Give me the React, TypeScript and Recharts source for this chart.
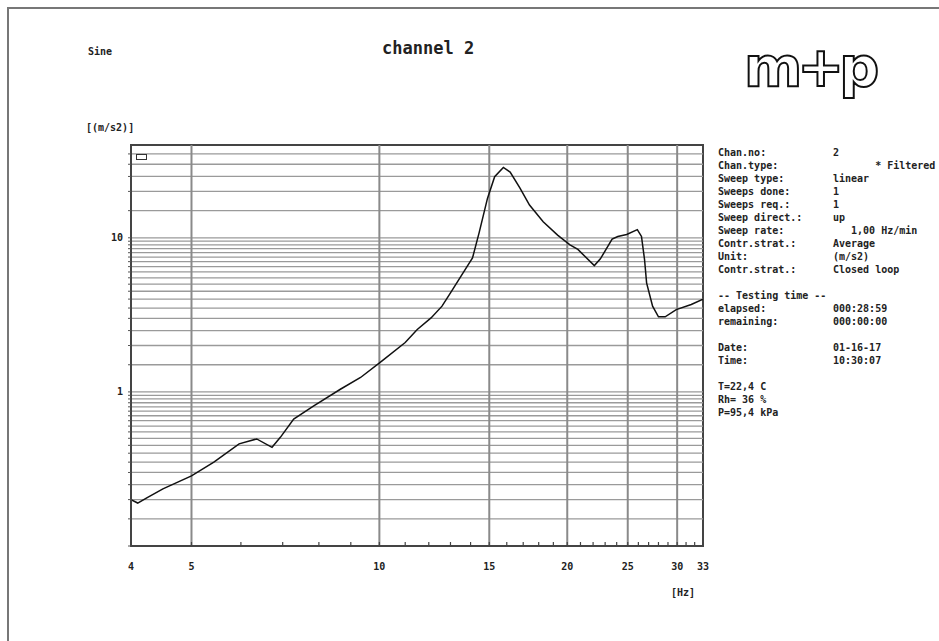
import React from 'react';
import { LineChart, Line, XAxis, YAxis, ReferenceLine, ReferenceArea } from 'recharts';

// measured response, channel 2 (frequency in Hz, acceleration in m/s2)
const freq = [
  4.0, 4.1, 4.24, 4.5, 5.0, 5.43, 5.96, 6.36, 6.73, 6.94, 7.29, 7.85, 8.66, 9.33, 10.1, 11.0,
  11.5, 12.1, 12.6, 13.0, 13.5, 14.1, 14.45, 14.9, 15.3, 15.8, 16.2, 16.8, 17.4, 18.3, 19.3,
  20.2, 20.8, 22.1, 22.6, 23.6, 24.1, 24.9, 25.9, 26.3, 26.6, 26.8, 27.4, 28.0, 28.7, 29.9,
  31.6, 33.0,
];
const accel = [
  0.2, 0.19, 0.205, 0.235, 0.285, 0.35, 0.46, 0.495, 0.437, 0.507, 0.666, 0.81, 1.04, 1.24,
  1.59, 2.09, 2.54, 3.02, 3.6, 4.39, 5.6, 7.4, 10.8, 18, 24.9, 28.6, 26.7, 21, 16.3, 12.7,
  10.4, 9.0, 8.4, 6.6, 7.3, 9.8, 10.2, 10.5, 11.3, 10.2, 7.2, 5.1, 3.6, 3.07, 3.07, 3.42,
  3.69, 4.0,
];

const xLabelTicks = [4, 5, 10, 15, 20, 25, 30, 33];
const xMinorTicks = [
  4, 5, 6, 7, 8, 9, 10, 11, 12, 13, 14, 15, 16, 17, 18, 19, 20, 21, 22, 23, 24, 25, 26, 27,
  28, 29, 30, 31, 32, 33,
];
const xGrid = [5, 10, 15, 20, 25, 30];
const yGrid = [
  0.1, 0.15, 0.2, 0.25, 0.3, 0.35, 0.4, 0.45, 0.5, 0.55, 0.6, 0.65, 0.7, 0.75, 0.8, 0.85, 0.9,
  0.95, 1, 1.5, 2, 2.5, 3, 3.5, 4, 4.5, 5, 5.5, 6, 6.5, 7, 7.5, 8, 8.5, 9, 9.5, 10, 15, 20,
  25, 30, 35,
];
const yLabels = [1, 10];

const infoLines: [string, string][] = [
  ['Chan.no:', '2'],
  ['Chan.type:', '       * Filtered'],
  ['Sweep type:', 'linear'],
  ['Sweeps done:', '1'],
  ['Sweeps req.:', '1'],
  ['Sweep direct.:', 'up'],
  ['Sweep rate:', '   1,00 Hz/min'],
  ['Contr.strat.:', 'Average'],
  ['Unit:', '(m/s2)'],
  ['Contr.strat.:', 'Closed loop'],
  ['', ''],
  ['-- Testing time --', ''],
  ['elapsed:', '000:28:59'],
  ['remaining:', '000:00:00'],
  ['', ''],
  ['Date:', '01-16-17'],
  ['Time:', '10:30:07'],
  ['', ''],
  ['T=22,4 C', ''],
  ['Rh= 36 %', ''],
  ['P=95,4 kPa', ''],
];

const data = freq.map((f, i) => ({ f, a: accel[i] }));

const mono = '"DejaVu Sans Mono", "Liberation Mono", monospace';

const XTick = (props: any) => {
  const { x, y, payload } = props;
  const show = xLabelTicks.includes(payload.value);
  return (
    <g>
      <line x1={x} y1={y} x2={x} y2={y - 4} stroke="#444" strokeWidth={1.2} />
      {show && (
        <text x={x} y={y + 24} textAnchor="middle" fontFamily={mono} fontWeight="bold" fontSize={10} fill="#222">
          {payload.value}
        </text>
      )}
    </g>
  );
};

const txt = (left: number, top: number, size: number, extra: React.CSSProperties = {}): React.CSSProperties => ({
  position: 'absolute',
  left,
  top,
  fontFamily: mono,
  fontWeight: 'bold',
  fontSize: size,
  lineHeight: `${size}px`,
  whiteSpace: 'pre',
  color: '#222',
  ...extra,
});

export default function App() {
  return (
    <div style={{ position: 'fixed', left: 0, top: 0, width: 939, height: 641, background: '#fff', overflow: 'hidden' }}>
      {/* page frame */}
      <div style={{ position: 'absolute', left: 7, top: 7, width: 1000, height: 1000, border: '2px solid #777' }} />

      <div style={{ position: 'absolute', left: 0, top: 0 }}>
        <LineChart width={939} height={641} data={data} margin={{ top: 145, right: 236, bottom: 55, left: 91 }}>
          <XAxis
            dataKey="f"
            type="number"
            scale="log"
            domain={[4, 33]}
            ticks={xMinorTicks}
            interval={0}
            allowDataOverflow
            height={40}
            tickSize={0}
            tickMargin={0}
            tick={<XTick />}
            axisLine={{ stroke: '#444', strokeWidth: 2 }}
          />
          <YAxis
            type="number"
            scale="log"
            domain={[0.1, 40]}
            ticks={yGrid}
            interval={0}
            allowDataOverflow
            width={40}
            tickSize={3}
            tickMargin={5}
            tickLine={{ stroke: '#555' }}
            axisLine={{ stroke: '#444', strokeWidth: 2 }}
            tickFormatter={(v: number) => (yLabels.includes(v) ? String(v) : '')}
            tick={{ fontFamily: mono, fontWeight: 'bold', fontSize: 10, fill: '#222' }}
          />
          {yGrid.slice(1).map((v) => (
            <ReferenceLine key={'y' + v} y={v} stroke="#9a9a9a" strokeWidth={1.3} />
          ))}
          {xGrid.map((v) => (
            <ReferenceLine key={'x' + v} x={v} stroke="#8a8a8a" strokeWidth={2} />
          ))}
          <ReferenceArea x1={4} x2={33} y1={0.1} y2={40} fill="none" stroke="#444" strokeWidth={2} />
          <Line
            type="linear"
            dataKey="a"
            stroke="#111"
            strokeWidth={1.5}
            dot={false}
            isAnimationActive={false}
          />
        </LineChart>
      </div>

      {/* small marker box in plot corner */}
      <div style={{ position: 'absolute', left: 136, top: 154, width: 9, height: 4, border: '1px solid #333' }} />

      <div style={txt(88, 47, 10)}>Sine</div>
      <div style={txt(382, 40, 17)}>channel 2</div>
      <div style={txt(86, 123, 10)}>[(m/s2)]</div>
      <div style={txt(671, 588, 10)}>[Hz]</div>

      {/* m+p logo */}
      <svg style={{ position: 'absolute', left: 736, top: 10 }} width={200} height={110}>
        <text
          x={8}
          y={76}
          fontFamily='"DejaVu Sans", sans-serif'
          fontWeight="bold"
          fontSize={56}
          letterSpacing={-5}
          fill="#fff"
          stroke="#111"
          strokeWidth={2}
        >
          m+p
        </text>
      </svg>

      {infoLines.map(([k, v], i) => (
        <React.Fragment key={i}>
          <div style={txt(718, 148 + i * 13, 10)}>{k}</div>
          <div style={txt(833, 148 + i * 13, 10)}>{v}</div>
        </React.Fragment>
      ))}
    </div>
  );
}
